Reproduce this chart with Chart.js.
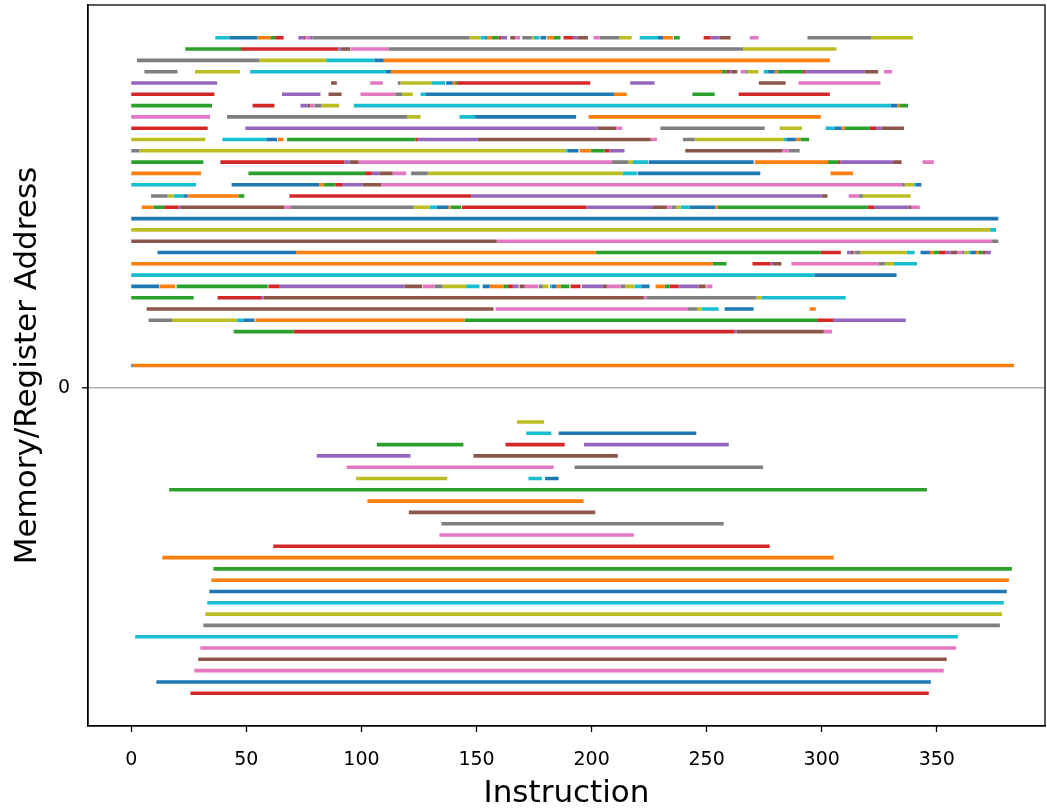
<!DOCTYPE html>
<html>
<head>
<meta charset="utf-8">
<script src="https://cdn.jsdelivr.net/npm/chart.js@4.4.0/dist/chart.umd.min.js"></script>
<style>
  html, body { margin: 0; padding: 0; background: #fff; }
</style>
</head>
<body>
<canvas id="trace" width="1047" height="809"></canvas>
<script>
// address of each row (memory above 0, registers below)
const addresses = [31, 30, 29, 28, 27, 26, 25, 24, 23, 22, 21, 20, 19, 18, 17, 16, 15, 14, 13, 12, 11, 10, 9, 8, 7, 6, 5, 2,
  -3, -4, -5, -6, -7, -8, -9, -10, -11, -12, -13, -14, -15, -16, -17, -18, -19, -20, -21, -22, -23, -24, -25, -26, -27];

// live ranges per row: [first instruction, last instruction, colour]
const segments = [
  [[36.5,42.6,'c'],[42.6,54.8,'b'],[54.8,60.4,'o'],[60.4,62.5,'g'],[62.5,66.2,'r'],[72.6,74.7,'p'],[74.7,75.5,'n'],[75.5,77.7,'k'],[77.7,78.8,'p'],[78.8,147,'y'],[147,151.7,'l'],[151.7,153.8,'c'],[153.8,154.7,'b'],[154.7,156.7,'o'],[156.7,159.6,'g'],[159.6,160.7,'r'],[160.7,163.3,'p'],[164.7,166.8,'n'],[166.8,169,'k'],[169.9,174,'y'],[174,174.9,'l'],[174.9,177.4,'c'],[177.8,180.3,'b'],[180.7,183.6,'o'],[183.6,186.5,'g'],[187.8,191.9,'r'],[191.9,193.8,'p'],[193.8,198.4,'n'],[200.9,203.6,'k'],[203.6,211.9,'y'],[211.9,217.4,'l'],[220.9,228.8,'c'],[228.8,231,'b'],[231,235.3,'o'],[235.8,238.3,'g'],[248.7,251.7,'r'],[251.7,255.7,'p'],[255.7,260.4,'n'],[268.7,272.5,'k'],[293.8,321.6,'y'],[321.6,339.6,'l']],
  [[23.5,47.7,'g'],[47.7,89.7,'r'],[89.7,90.9,'p'],[90.9,95.2,'n'],[95.5,111.7,'k'],[111.7,265.8,'y'],[265.8,306.4,'l']],
  [[2.5,55.7,'y'],[55.7,84.7,'l'],[84.7,105.7,'c'],[105.7,109.7,'b'],[109.7,303.5,'o']],
  [[5.7,20.1,'y'],[27.7,47.3,'l'],[51.6,110.7,'c'],[110.7,112.9,'b'],[112.9,256.7,'o'],[256.7,258.6,'g'],[258.6,259.7,'r'],[259.7,261,'p'],[261,263.3,'n'],[264.8,266.8,'k'],[266.8,267.7,'y'],[267.7,272.5,'l'],[274.8,276.7,'c'],[276.7,279.6,'b'],[279.6,280.7,'o'],[280.7,291.9,'g'],[291.9,292.9,'r'],[292.9,318.7,'p'],[318.7,324.5,'n'],[327,330.6,'k']],
  [[0,37.3,'p'],[86.8,89.3,'n'],[103.8,109.3,'k'],[115.8,117,'y'],[117,130.6,'l'],[130.6,136.4,'c'],[136.8,139.7,'b'],[139.7,140.7,'o'],[140.7,141.6,'g'],[141.6,199.4,'r'],[216.8,227.4,'p'],[272.7,284.3,'n'],[289.9,325.5,'k']],
  [[0,36.1,'r'],[65.5,82.2,'p'],[85.7,91.4,'n'],[99.6,114.7,'k'],[114.7,117.7,'y'],[117.7,122.3,'l'],[125.7,127.8,'c'],[127.8,209.7,'b'],[209.7,215.3,'o'],[243.8,253.5,'g'],[263.9,303.5,'r']],
  [[0,35.1,'g'],[52.7,62.2,'r'],[73.5,76.7,'p'],[76.7,77.7,'n'],[77.7,79.6,'k'],[79.6,82.7,'y'],[82.7,90.3,'l'],[96.7,329.9,'c'],[329.9,332.7,'b'],[332.7,333.9,'o'],[333.9,337.5,'g']],
  [[0,34.2,'k'],[41.6,119.9,'y'],[119.9,125.7,'l'],[142.6,149.4,'c'],[149.4,193.3,'b'],[198.7,299.6,'o']],
  [[0,33.2,'r'],[49.6,202.7,'p'],[202.7,210.7,'n'],[210.7,213.3,'k'],[229.9,275.2,'y'],[281.7,291.4,'l'],[301.7,305.7,'c'],[305.7,308.6,'b'],[308.6,310,'o'],[310,320.9,'g'],[320.9,323.8,'r'],[323.8,326,'p'],[326,335.7,'n']],
  [[0,32.2,'l'],[39.6,58.7,'c'],[58.7,63.3,'b'],[63.6,66.2,'o'],[67.7,123.5,'g'],[123.5,124.5,'r'],[124.5,150.6,'p'],[150.6,225.7,'n'],[225.7,228.4,'k'],[239.7,244.8,'y'],[244.8,283.6,'l'],[283.6,284.7,'c'],[284.7,288.7,'b'],[288.7,290.7,'o'],[290.7,294.5,'g']],
  [[0,3.5,'y'],[3.5,188.7,'l'],[188.7,189.7,'c'],[189.7,194.3,'b'],[194.8,199.6,'o'],[199.6,205.7,'g'],[205.7,207.8,'r'],[207.8,214.3,'p'],[240.7,282.9,'n'],[282.9,285.7,'k'],[285.7,290.4,'y']],
  [[0,31.3,'g'],[38.7,92.6,'r'],[92.6,94.8,'p'],[94.8,98.8,'n'],[98.8,208.8,'k'],[208.8,215.8,'y'],[215.8,218,'l'],[218,224.5,'c'],[224.8,270.4,'b'],[270.9,302.7,'o'],[302.7,307.1,'g'],[307.1,308.1,'r'],[308.1,331,'p'],[331,334.7,'n'],[343.8,348.7,'k']],
  [[0,30.3,'o'],[50.9,101.6,'g'],[101.6,104.5,'r'],[104.5,107.8,'p'],[107.8,113.6,'n'],[113.6,119.4,'k'],[121.6,128.8,'y'],[128.8,213.6,'l'],[213.6,219.7,'c'],[220,273.3,'b'],[303.8,313.6,'o']],
  [[0,28.1,'c'],[43.6,81.7,'b'],[81.7,83.6,'o'],[83.6,88.7,'g'],[88.7,91.9,'r'],[91.9,100.6,'p'],[100.6,108.6,'n'],[108.6,334.9,'k'],[334.9,336.1,'y'],[336.1,340,'l'],[340,340.9,'c'],[340.9,343.3,'b']],
  [[8.6,15.8,'y'],[15.8,18.4,'l'],[18.4,22.6,'c'],[22.6,24.5,'b'],[24.5,46.5,'o'],[46.5,49.1,'g'],[68.7,147.7,'r'],[147.7,299.9,'p'],[299.9,302.5,'n'],[311.7,316.1,'k'],[316.1,317.9,'y'],[317.9,338.6,'l']],
  [[4.5,9.6,'o'],[9.6,14.3,'g'],[14.3,20.6,'r'],[20.6,21.6,'p'],[21.6,66.5,'n'],[66.5,69.4,'k'],[69.4,122.7,'y'],[122.7,129.6,'l'],[129.6,132.7,'c'],[132.7,137.8,'b'],[137.8,138.7,'o'],[138.7,143.3,'g'],[143.6,197.7,'r'],[197.7,226.7,'p'],[226.7,232.7,'n'],[232.7,234.7,'k'],[234.7,236.8,'y'],[236.8,238.7,'l'],[238.7,242.6,'c'],[242.6,253.8,'b'],[253.8,254.7,'o'],[254.7,319.9,'g'],[319.9,322.7,'r'],[322.7,337.8,'p'],[337.8,339,'n'],[339,342.6,'k']],
  [[0,376.7,'b']],
  [[0,373,'l'],[373,375.7,'c']],
  [[0,158.8,'n'],[158.8,374,'k'],[374,376.7,'y']],
  [[11.4,71.6,'b'],[71.6,201.7,'o'],[201.7,299.6,'g'],[299.6,308.3,'r'],[311,312.6,'p'],[312.6,313.8,'n'],[313.8,314.5,'k'],[314.5,316.8,'y'],[316.8,336.8,'l'],[336.8,340.4,'c'],[342.9,347,'b'],[347,348.8,'o'],[348.8,350.9,'g'],[350.9,353.9,'r'],[353.9,355.9,'p'],[355.9,358.8,'n'],[358.8,361,'k'],[361,361.9,'y'],[361.9,363.9,'l'],[363.9,364.8,'c'],[364.8,367,'b'],[367,368,'o'],[368,369.9,'g'],[369.9,370.9,'r'],[370.9,373.5,'p']],
  [[0,252.7,'o'],[252.7,258.6,'g'],[269.9,277.8,'r'],[277.8,278.8,'p'],[278.8,282.5,'n'],[286.8,324.8,'k'],[324.8,327.4,'y'],[327.4,331.4,'l'],[331.4,341.4,'c']],
  [[0,297,'c'],[297,332.5,'b']],
  [[0,12.2,'b'],[12.5,19.1,'o'],[19.7,59.3,'g'],[59.6,64.5,'r'],[64.5,118.7,'p'],[118.7,126.4,'n'],[126.7,131.7,'k'],[131.7,135.3,'y'],[135.3,145.5,'l'],[145.5,151.3,'c'],[152.7,155.7,'b'],[155.7,161.7,'o'],[161.7,163.6,'g'],[163.6,165.8,'r'],[165.8,168.3,'p'],[168.7,170.9,'n'],[170.9,176.7,'k'],[177,178.8,'y'],[178.8,181.3,'l'],[181.9,182.7,'c'],[182.7,184.7,'b'],[184.7,186.5,'o'],[186.5,190.4,'g'],[190.9,195.2,'r'],[195.8,204.9,'p'],[204.9,206.8,'n'],[206.8,212.6,'k'],[212.6,214.7,'y'],[214.7,218.7,'l'],[218.7,221.6,'c'],[221.6,225.2,'b'],[227.8,231.7,'o'],[231.7,233.9,'g'],[233.9,237.8,'r'],[237.8,246.5,'p'],[246.5,249.6,'n'],[249.9,252.5,'k']],
  [[0,27.1,'g'],[37.5,56.4,'r'],[56.4,57.5,'p'],[57.5,222.7,'n'],[222.7,223.8,'k'],[223.8,271.6,'y'],[271.6,273.8,'l'],[273.8,310.4,'c']],
  [[6.7,157.4,'n'],[158.3,241.9,'k'],[241.9,245.8,'y'],[245.8,247.7,'l'],[247.7,255.2,'c'],[257.8,270.4,'b'],[294.8,297.4,'o']],
  [[7.5,17.7,'y'],[17.7,45.8,'l'],[45.8,48.7,'c'],[48.7,53.5,'b'],[53.9,144.8,'o'],[144.8,298,'g'],[298,304.9,'r'],[304.9,336.5,'p']],
  [[44.5,70.6,'g'],[70.6,261.9,'r'],[261.9,262.9,'p'],[262.9,300.9,'n'],[300.9,304.5,'k']],
  [[0,0.6,'b'],[0.6,383.5,'o']],
  [[167.6,179.3,'l']],
  [[171.6,182.5,'c'],[185.7,245.5,'b']],
  [[106.7,144.3,'g'],[162.6,188.3,'r'],[196.7,259.6,'p']],
  [[80.6,121.3,'p'],[148.7,211.4,'n']],
  [[93.6,183.5,'k'],[192.6,274.5,'y']],
  [[97.7,137.3,'l'],[172.6,178.4,'c'],[179.8,185.7,'b']],
  [[16.5,345.7,'g']],
  [[102.6,196.5,'o']],
  [[120.6,201.6,'n']],
  [[134.8,257.4,'y']],
  [[133.9,218.3,'k']],
  [[61.7,277.4,'r']],
  [[13.5,305.2,'o']],
  [[35.7,382.6,'g']],
  [[34.8,381.3,'o']],
  [[33.9,380.4,'b']],
  [[33,379.1,'c']],
  [[32.2,378.3,'l']],
  [[31.3,377.4,'y']],
  [[1.7,359.1,'c']],
  [[30,358.3,'k']],
  [[29.1,354.3,'n']],
  [[27.4,353,'k']],
  [[10.9,347.4,'b']],
  [[25.7,346.5,'r']]
];

const xTicks = [0, 50, 100, 150, 200, 250, 300, 350];
const yTicks = [0];

const palette = {
  b: '#1f77b4', o: '#ff7f0e', g: '#2ca02c', r: '#d62728', p: '#9467bd',
  n: '#8c564b', k: '#e377c2', y: '#7f7f7f', l: '#bcbd22', c: '#17becf'
};

// one dataset per colour, segments split by null points
const datasets = Object.keys(palette).map(key => {
  const pts = [];
  segments.forEach((row, i) => {
    row.forEach(([x0, x1, col]) => {
      if (col !== key) return;
      pts.push({ x: x0, y: addresses[i] }, { x: x1, y: addresses[i] }, { x: x1, y: null });
    });
  });
  return {
    data: pts,
    borderColor: palette[key],
    borderWidth: 3.6,
    borderCapStyle: 'butt',
    pointRadius: 0,
    spanGaps: false,
    fill: false,
    tension: 0
  };
});

const frame = {
  id: 'frame',
  afterDatasetsDraw(chart) {
    const { ctx, chartArea: a } = chart;
    ctx.save();
    ctx.strokeStyle = '#000';
    ctx.lineWidth = 1.3;
    ctx.strokeRect(a.left, a.top, a.right - a.left, a.bottom - a.top);
    ctx.restore();
  }
};

const font = 'DejaVu Sans';

new Chart(document.getElementById('trace').getContext('2d'), {
  type: 'line',
  data: { datasets },
  options: {
    responsive: false,
    animation: false,
    layout: { padding: { top: 5, right: 2, left: 0, bottom: 0 } },
    plugins: { legend: { display: false }, tooltip: { enabled: false } },
    scales: {
      x: {
        type: 'linear',
        min: -18.8,
        max: 397,
        afterBuildTicks: s => { s.ticks = xTicks.map(v => ({ value: v })); },
        afterFit: s => { s.height = 83; s.paddingLeft = 0; s.paddingRight = 0; },
        ticks: { color: '#000', font: { family: font, size: 19 }, padding: 17, maxRotation: 0 },
        grid: { drawOnChartArea: false, tickLength: 6, tickColor: '#000', tickWidth: 1.3 },
        border: { color: '#000', width: 1.3 },
        title: { display: true, text: 'Instruction', color: '#000', font: { family: font, size: 31, lineHeight: 1.0 }, padding: { top: 0, bottom: 0 } }
      },
      y: {
        type: 'linear',
        min: -29.9,
        max: 33.9,
        afterBuildTicks: s => { s.ticks = yTicks.map(v => ({ value: v })); },
        afterFit: s => { s.width = 88; s.paddingTop = 0; s.paddingBottom = 0; },
        ticks: { color: '#000', font: { family: font, size: 19 }, padding: 12 },
        grid: { color: '#b0b0b0', lineWidth: 1.6, tickLength: 6, tickColor: '#000', tickWidth: 1.3 },
        border: { color: '#000', width: 1.3 },
        title: { display: true, text: 'Memory/Register Address', color: '#000', font: { family: font, size: 31 }, padding: { top: 9, bottom: 0 } }
      }
    }
  },
  plugins: [frame]
});
</script>
</body>
</html>
